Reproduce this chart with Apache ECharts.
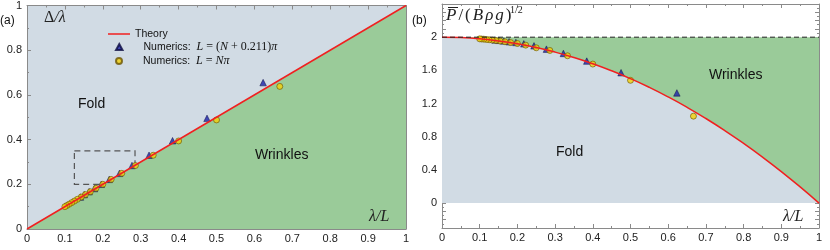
<!DOCTYPE html>
<html><head><meta charset="utf-8">
<script src="https://cdn.jsdelivr.net/npm/echarts@6/dist/echarts.min.js"></script>
<style>html,body{margin:0;padding:0;background:#fff}#c{width:830px;height:250px}</style>
</head><body><div id="c"></div>
<script>
// ---- data ----
const xTicks = [0,0.1,0.2,0.3,0.4,0.5,0.6,0.7,0.8,0.9,1];
const yTicksA = [0,0.2,0.4,0.6,0.8,1];
const yTicksB = [0,0.4,0.8,1.2,1.6,2];
const theoryA = [[0,0],[1,1]];
const triA = [[0.623,0.655],[0.475,0.495],[0.384,0.395],[0.322,0.330],[0.277,0.284],[0.244,0.249],[0.217,0.222],[0.196,0.200],[0.178,0.181],[0.164,0.167],[0.151,0.154],[0.141,0.143]];
const circA = [[0.667,0.638],[0.5,0.488],[0.4,0.394],[0.333,0.330],[0.286,0.284],[0.25,0.249],[0.222,0.222],[0.2,0.2],[0.182,0.182],[0.167,0.167],[0.154,0.154],[0.143,0.143],[0.133,0.133],[0.125,0.125],[0.118,0.118],[0.111,0.111],[0.105,0.105],[0.1,0.1]];
const boxA = [[0.125,0.35],[0.285,0.2]];
const theoryB = [[0,2],[0.05,1.995],[0.1,1.98],[0.15,1.955],[0.2,1.92],[0.25,1.875],[0.3,1.82],[0.35,1.755],[0.4,1.68],[0.45,1.595],[0.5,1.5],[0.55,1.395],[0.6,1.28],[0.65,1.155],[0.7,1.02],[0.75,0.875],[0.8,0.72],[0.85,0.555],[0.9,0.38],[0.95,0.195],[1,0]];
const limitB = [[0,2],[1,2]];
const triB = [[0.623,1.328],[0.475,1.572],[0.384,1.712],[0.322,1.804],[0.277,1.856],[0.244,1.896],[0.217,1.92],[0.196,1.936],[0.178,1.945],[0.164,1.955],[0.151,1.962],[0.141,1.967]];
const circB = [[0.667,1.048],[0.5,1.48],[0.4,1.676],[0.333,1.776],[0.286,1.84],[0.25,1.872],[0.222,1.904],[0.2,1.924],[0.182,1.935],[0.167,1.945],[0.154,1.953],[0.143,1.96],[0.133,1.965],[0.125,1.969],[0.118,1.972],[0.111,1.976],[0.105,1.978],[0.1,1.98]];

// ---- styles ----
const FRAME = '#8a8a8a';
const BLUEGRAY = '#d1dbe4';
const GREEN = '#9acb99';
const RED = '#f02020';
const SANS = 'Liberation Sans';
const SERIF = 'Liberation Serif';

function xAx(grid, pos, labels){
  return {type:'value', gridIndex:grid, position:pos, min:0, max:1, interval:0.1,
    axisLine:{show:true,onZero:false,lineStyle:{color:FRAME,width:1}},
    axisTick:{show:true,inside:true,length:4,lineStyle:{color:FRAME}},
    minorTick:{show:true,splitNumber:2,length:2,lineStyle:{color:FRAME}},
    splitLine:{show:false},
    axisLabel:{show:labels,margin:4,color:'#222',fontFamily:SANS,fontSize:11,
      customValues: labels ? xTicks : undefined,
      formatter:v=>String(+v.toFixed(1))}};
}
function yAx(grid,pos,labels,min,max,interval,ticks){
  return {type:'value', gridIndex:grid, position:pos, min:min, max:max, interval:interval,
    axisLine:{show:true,onZero:false,lineStyle:{color:FRAME,width:1}},
    axisTick:{show:true,inside:true,length:4,lineStyle:{color:FRAME}},
    minorTick:{show:true,splitNumber:2,length:2,lineStyle:{color:FRAME}},
    splitLine:{show:false},
    axisLabel:{show:labels,margin:5,color:'#222',fontFamily:SANS,fontSize:11,
      customValues: labels ? ticks : undefined,
      formatter:v=>String(+v.toFixed(1))}};
}
const triStyle = {color:'#1c22a8',borderColor:'#0a0a40',borderWidth:0.6};
const circStyle = {color:'#f2d10a',borderColor:'#6b5400',borderWidth:0.8};
const legendText = {fontFamily:SANS,fontSize:10.5,color:'#111',lineHeight:12,
  rich:{
    p:{width:16,fontSize:10.5},
    s:{fontFamily:SANS,fontSize:10.5,color:'#111'},
    i:{fontFamily:SERIF,fontStyle:'italic',fontSize:12,color:'#111'},
    r:{fontFamily:SERIF,fontSize:12,color:'#111'}
  }};
function leg(name, top, left, icon, w, h, fmt){
  return {orient:'vertical', left:left, top:top, itemWidth:w, itemHeight:h, itemGap:0,
    selectedMode:false, data:[{name:name,icon:icon}], textStyle:legendText, formatter:()=>fmt};
}

const chart = echarts.init(document.getElementById('c'),null,{renderer:'canvas'});
chart.setOption({
  animation:false,
  backgroundColor:'#fff',
  grid:[
    {left:27,top:4,width:379,height:225,show:true,backgroundColor:BLUEGRAY,borderWidth:0},
    {left:442,top:4,width:377,height:224,show:false}
  ],
  xAxis:[xAx(0,'bottom',true),xAx(0,'top',false),xAx(1,'bottom',true),xAx(1,'top',false)],
  yAxis:[yAx(0,'left',true,0,1,0.2,yTicksA),yAx(0,'right',false,0,1,0.2,yTicksA),
         yAx(1,'left',true,-0.3,2.4,0.1,yTicksB),yAx(1,'right',false,-0.3,2.4,0.1,yTicksB)],
  legend:[
    leg('Theory',23,103,'rect',22,1.5,'{s|Theory}'),
    leg('Tri',36,110,'triangle',6.5,6,'{p| }{s|Numerics:  }{i|L}{r| = (}{i|N}{r| + 0.211)}{i|π}'),
    leg('Circ',50,110,'circle',6,6,'{p| }{s|Numerics:  }{i|L}{r| = }{i|Nπ}')
  ],
  series:[
    // panel a
    {name:'areaA',type:'line',xAxisIndex:0,yAxisIndex:0,data:theoryA,symbol:'none',
      lineStyle:{width:0},areaStyle:{color:GREEN,opacity:1},z:1, silent:true,
      markArea:{silent:true,itemStyle:{color:'rgba(0,0,0,0)',borderColor:'#555',borderWidth:1.2,borderType:[6,4]},
        data:[[{coord:boxA[0]},{coord:boxA[1]}]]}},
    {name:'Tri',type:'scatter',xAxisIndex:0,yAxisIndex:0,data:triA,symbol:'triangle',symbolSize:6.5,itemStyle:triStyle,z:3},
    {name:'Circ',type:'scatter',xAxisIndex:0,yAxisIndex:0,data:circA,symbol:'circle',symbolSize:6,itemStyle:circStyle,z:3},
    {name:'Theory',type:'line',xAxisIndex:0,yAxisIndex:0,data:theoryA,symbol:'none',lineStyle:{color:RED,width:1.5},itemStyle:{color:RED},z:4},
    // panel b
    {name:'greenB',type:'line',xAxisIndex:2,yAxisIndex:2,data:limitB,symbol:'none',
      lineStyle:{width:0},areaStyle:{color:GREEN,opacity:1},z:1,silent:true},
    {name:'blueB',type:'line',xAxisIndex:2,yAxisIndex:2,data:theoryB,symbol:'none',smooth:true,
      lineStyle:{width:0},areaStyle:{color:BLUEGRAY,opacity:1},z:2,silent:true},
    {name:'dashB',type:'line',xAxisIndex:2,yAxisIndex:2,data:limitB,symbol:'none',
      lineStyle:{color:'#222',width:1,type:[5,3]},z:5,silent:true},
    {name:'TriB',type:'scatter',xAxisIndex:2,yAxisIndex:2,data:triB,symbol:'triangle',symbolSize:6.5,itemStyle:triStyle,z:3},
    {name:'CircB',type:'scatter',xAxisIndex:2,yAxisIndex:2,data:circB,symbol:'circle',symbolSize:6,itemStyle:circStyle,z:3},
    {name:'TheoryB',type:'line',xAxisIndex:2,yAxisIndex:2,data:theoryB,symbol:'none',smooth:true,lineStyle:{color:RED,width:1.5},z:4}
  ],
  graphic:{elements:[
    {type:'text',z:100,left:0,top:15,style:{text:'(a)',font:'12px '+SANS,fill:'#111'}},
    {type:'text',z:100,left:412,top:15,style:{text:'(b)',font:'12px '+SANS,fill:'#111'}},
    {type:'text',z:100,left:44,top:10,style:{rich:{r:{font:'16px '+SERIF,fill:'#222'},i:{font:'italic 16px '+SERIF,fill:'#222'}},text:'{r|Δ}{i|/λ}'}},
    {type:'text',z:100,left:369,top:209,style:{text:'λ/L',font:'italic 16px '+SERIF,fill:'#222'}},
    {type:'text',z:100,left:783,top:209,style:{text:'λ/L',font:'italic 16px '+SERIF,fill:'#222'}},
    {type:'text',z:100,left:446,top:7,style:{rich:{r:{font:'17px '+SERIF,fill:'#222',padding:[0,1,0,1]},i:{font:'italic 17px '+SERIF,fill:'#222',padding:[0,1,0,1]}},text:'{i|P}{r|/}{r|(}{i|B}{i|ρ}{i|g}{r|)}'}},
    {type:'text',z:100,left:510,top:5,style:{text:'1/2',font:'10px '+SERIF,fill:'#222'}},
    {type:'line',z:100,shape:{x1:448,y1:7.5,x2:458,y2:7.5},style:{stroke:'#222',lineWidth:1}},
    {type:'text',z:100,left:78,top:97,style:{text:'Fold',font:'14px '+SANS,fill:'#111'}},
    {type:'text',z:100,left:255,top:148,style:{text:'Wrinkles',font:'14px '+SANS,fill:'#111'}},
    {type:'text',z:100,left:556,top:145,style:{text:'Fold',font:'14px '+SANS,fill:'#111'}},
    {type:'text',z:100,left:709,top:68,style:{text:'Wrinkles',font:'14px '+SANS,fill:'#111'}}
  ]}
});
</script></body></html>
